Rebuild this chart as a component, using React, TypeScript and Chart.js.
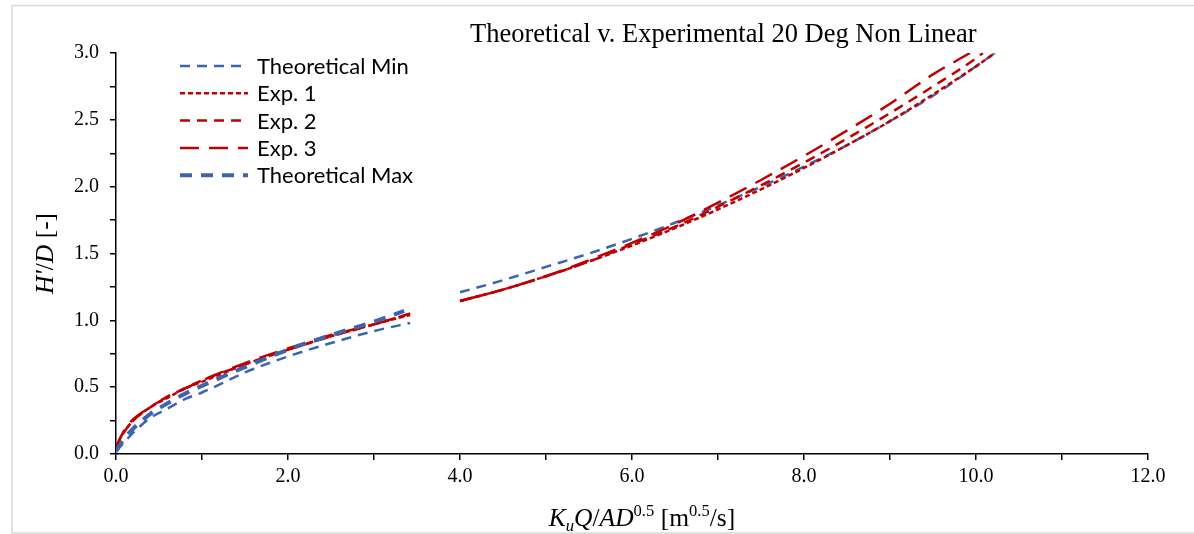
import React, { useEffect, useRef } from 'react';
import { Chart, registerables } from 'chart.js';

Chart.register(...registerables);

// ---- Data ----
const minX1 = [0, 0.1, 0.2, 0.4, 0.6, 0.8, 1.0, 1.5, 2.0, 2.5, 3.0, 3.42];
const minY1 = [0.02, 0.09, 0.16, 0.27, 0.34, 0.41, 0.46, 0.61, 0.73, 0.83, 0.92, 0.98];
const minX2 = [4.0, 4.5, 5.0, 5.5, 6.0, 6.5, 7.0, 7.5, 8.0, 8.5, 9.0, 9.5, 10.0, 10.22];
const minY2 = [1.21, 1.3, 1.4, 1.5, 1.61, 1.73, 1.86, 2.0, 2.15, 2.31, 2.49, 2.68, 2.9, 3.0];

const expX1 = [0, 0.05, 0.1, 0.2, 0.4, 0.6, 0.8, 1.0, 1.5, 2.0, 2.5, 3.0, 3.42];
const exp1Y1 = [0.04, 0.12, 0.17, 0.25, 0.35, 0.42, 0.49, 0.54, 0.67, 0.78, 0.88, 0.97, 1.04];
const exp2Y1 = [0.04, 0.12, 0.17, 0.25, 0.35, 0.43, 0.49, 0.55, 0.67, 0.78, 0.88, 0.97, 1.05];
const exp3Y1 = [0.05, 0.12, 0.18, 0.26, 0.35, 0.43, 0.49, 0.55, 0.68, 0.79, 0.89, 0.97, 1.05];

const exp1X2 = [4.0, 4.5, 5.0, 5.5, 6.0, 6.5, 7.0, 7.5, 8.0, 8.5, 9.0, 9.5, 10.0, 10.22];
const exp1Y2 = [1.145, 1.23, 1.33, 1.44, 1.56, 1.69, 1.83, 1.98, 2.14, 2.31, 2.49, 2.69, 2.9, 3.0];
const exp2X2 = [4.0, 4.5, 5.0, 5.5, 6.0, 6.5, 7.0, 7.5, 8.0, 8.5, 9.0, 9.5, 10.0, 10.08];
const exp2Y2 = [1.145, 1.23, 1.33, 1.44, 1.57, 1.7, 1.85, 2.01, 2.18, 2.36, 2.55, 2.75, 2.96, 3.0];
const exp3X2 = [4.0, 4.5, 5.0, 5.5, 6.0, 6.5, 7.0, 7.5, 8.0, 8.5, 9.0, 9.5, 9.93];
const exp3Y2 = [1.145, 1.23, 1.33, 1.45, 1.58, 1.72, 1.88, 2.05, 2.23, 2.42, 2.62, 2.84, 3.0];

const maxX1 = [0, 0.1, 0.2, 0.4, 0.6, 0.8, 1.0, 1.5, 2.0, 2.5, 3.0, 3.35];
const maxY1 = [0.02, 0.12, 0.19, 0.3, 0.38, 0.45, 0.51, 0.65, 0.78, 0.89, 0.99, 1.07];

const xTicks = [0, 2, 4, 6, 8, 10, 12];
const yTicks = [0, 0.5, 1.0, 1.5, 2.0, 2.5, 3.0];

const TITLE = 'Theoretical v. Experimental 20 Deg Non Linear';
const BLUE = '#3D64AE';
const RED = '#C00000';

const legendItems = [
  { label: 'Theoretical Min', color: BLUE, width: 2.5, dash: [10, 7] },
  { label: 'Exp. 1', color: RED, width: 2.5, dash: [5, 3] },
  { label: 'Exp. 2', color: RED, width: 2.5, dash: [10, 7] },
  { label: 'Exp. 3', color: RED, width: 2.5, dash: [19, 10] },
  { label: 'Theoretical Max', color: BLUE, width: 4, dash: [12, 9] },
];

function pts(xs: number[], ys: number[]) {
  return xs.map((x, i) => ({ x, y: ys[i] }));
}
function joined(a: { x: number; y: number | null }[], b: { x: number; y: number | null }[]) {
  const gapX = (a[a.length - 1].x + b[0].x) / 2;
  return [...a, { x: gapX, y: null }, ...b];
}

type Seg = { text: string; italic?: boolean; script?: 'sub' | 'sup' };

function drawRich(ctx: CanvasRenderingContext2D, segs: Seg[], cx: number, baseY: number, size: number) {
  const fam = "'Liberation Serif', 'Times New Roman', serif";
  const fontFor = (s: Seg) => {
    const sz = s.script ? size * 0.65 : size;
    return `${s.italic ? 'italic ' : ''}${sz}px ${fam}`;
  };
  let total = 0;
  const widths = segs.map((s) => {
    ctx.font = fontFor(s);
    const w = ctx.measureText(s.text).width;
    total += w;
    return w;
  });
  let x = cx - total / 2;
  ctx.textAlign = 'left';
  ctx.textBaseline = 'alphabetic';
  segs.forEach((s, i) => {
    ctx.font = fontFor(s);
    let y = baseY;
    if (s.script === 'sup') y -= size * 0.38;
    if (s.script === 'sub') y += size * 0.2;
    ctx.fillText(s.text, x, y);
    x += widths[i];
  });
}

const decorPlugin = {
  id: 'decor',
  beforeDraw(chart: any) {
    const ctx = chart.ctx as CanvasRenderingContext2D;
    ctx.save();
    ctx.strokeStyle = '#D9D9D9';
    ctx.lineWidth = 1.5;
    ctx.strokeRect(12, 5.5, chart.width + 20, 527.5);
    ctx.restore();
  },
  afterDraw(chart: any) {
    const ctx = chart.ctx as CanvasRenderingContext2D;
    const ca = chart.chartArea;
    ctx.save();
    ctx.fillStyle = '#000';
    // Title
    ctx.font = "26.5px 'Liberation Serif', 'Times New Roman', serif";
    ctx.textAlign = 'center';
    ctx.textBaseline = 'alphabetic';
    ctx.fillText(TITLE, ca.left + (ca.right - ca.left) * 0.5885, 42);

    // X axis title
    drawRich(
      ctx,
      [
        { text: 'K', italic: true },
        { text: 'u', italic: true, script: 'sub' },
        { text: 'Q', italic: true },
        { text: '/' },
        { text: 'AD', italic: true },
        { text: '0.5', script: 'sup' },
        { text: ' [m' },
        { text: '0.5', script: 'sup' },
        { text: '/s]' },
      ],
      (ca.left + ca.right) / 2 + 10,
      526,
      25.5
    );

    // Y axis title
    ctx.save();
    ctx.translate(53, (ca.top + ca.bottom) / 2);
    ctx.rotate(-Math.PI / 2);
    drawRich(
      ctx,
      [
        { text: "H'", italic: true },
        { text: '/' },
        { text: 'D', italic: true },
        { text: ' [-]' },
      ],
      0,
      0,
      25.5
    );
    ctx.restore();

    // Legend
    const lx = ca.left + 64;
    const ly = ca.top + 13;
    const rowH = 27.3;
    legendItems.forEach((it, i) => {
      const y = ly + i * rowH;
      ctx.save();
      ctx.strokeStyle = it.color;
      ctx.lineWidth = it.width;
      ctx.setLineDash(it.dash);
      ctx.beginPath();
      ctx.moveTo(lx, y);
      ctx.lineTo(lx + 68, y);
      ctx.stroke();
      ctx.restore();
      ctx.font = "22px Lato, 'Noto Sans', sans-serif";
      ctx.textAlign = 'left';
      ctx.textBaseline = 'middle';
      ctx.fillStyle = '#000';
      ctx.fillText(it.label, lx + 77, y + 1);
    });
    ctx.restore();
  },
};

export default function App() {
  const ref = useRef<HTMLCanvasElement | null>(null);
  useEffect(() => {
    if (!ref.current) return;
    const ds = (label: string, data: any[], it: any, order: number) => ({
      label,
      data,
      borderColor: it.color,
      backgroundColor: it.color,
      borderWidth: it.width,
      borderDash: it.dash,
      pointRadius: 0,
      fill: false,
      cubicInterpolationMode: 'monotone' as const,
      spanGaps: false,
      order,
    });
    const chart = new Chart(ref.current, {
      type: 'line',
      data: {
        datasets: [
          ds('Theoretical Min', joined(pts(minX1, minY1), pts(minX2, minY2)), legendItems[0], 4),
          ds('Exp. 1', joined(pts(expX1, exp1Y1), pts(exp1X2, exp1Y2)), legendItems[1], 3),
          ds('Exp. 2', joined(pts(expX1, exp2Y1), pts(exp2X2, exp2Y2)), legendItems[2], 2),
          ds('Exp. 3', joined(pts(expX1, exp3Y1), pts(exp3X2, exp3Y2)), legendItems[3], 1),
          ds('Theoretical Max', pts(maxX1, maxY1), legendItems[4], 0),
        ],
      },
      options: {
        animation: false,
        responsive: false,
        devicePixelRatio: 1,
        layout: { padding: { left: 0, right: 46, top: 53, bottom: 0 } },
        plugins: {
          legend: { display: false },
          title: { display: false },
          tooltip: { enabled: false },
        },
        scales: {
          x: {
            type: 'linear',
            min: 0,
            max: 12,
            afterFit: (s: any) => {
              s.height = 80;
            },
            afterBuildTicks: (s: any) => {
              const t: any[] = [];
              for (let v = 0; v <= 12; v += 1) t.push({ value: v });
              s.ticks = t;
            },
            ticks: {
              autoSkip: false,
              maxRotation: 0,
              padding: 5,
              color: '#000',
              font: { family: "'Liberation Serif', 'Times New Roman', serif", size: 20 },
              callback: (v: any) => (xTicks.includes(Number(v)) ? Number(v).toFixed(1) : ''),
            },
            grid: { drawOnChartArea: false, drawTicks: true, tickLength: 6, color: '#000', lineWidth: 1.5 },
            border: { display: true, color: '#000', width: 1.5 },
          },
          y: {
            type: 'linear',
            min: 0,
            max: 3,
            afterFit: (s: any) => {
              s.width = 116;
            },
            afterBuildTicks: (s: any) => {
              const t: any[] = [];
              for (let i = 0; i <= 12; i++) t.push({ value: i * 0.25 });
              s.ticks = t;
            },
            ticks: {
              autoSkip: false,
              padding: 11,
              color: '#000',
              font: { family: "'Liberation Serif', 'Times New Roman', serif", size: 20 },
              callback: (v: any) => {
                const n = Number(v);
                return yTicks.some((t) => Math.abs(t - n) < 1e-9) ? n.toFixed(1) : '';
              },
            },
            grid: { drawOnChartArea: false, drawTicks: true, tickLength: 6, color: '#000', lineWidth: 1.5 },
            border: { display: true, color: '#000', width: 1.5 },
          },
        },
      },
      plugins: [decorPlugin],
    });
    return () => chart.destroy();
  }, []);
  return (
    <div style={{ position: 'fixed', left: 0, top: 0, width: 1194, height: 534, background: '#fff' }}>
      <canvas ref={ref} width={1194} height={534} style={{ display: 'block' }} />
    </div>
  );
}
